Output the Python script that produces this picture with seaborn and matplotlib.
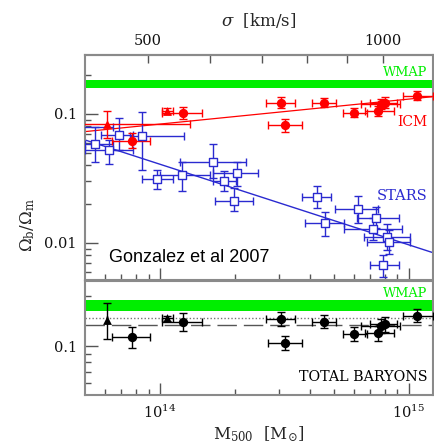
import numpy as np
import pandas as pd
import seaborn as sns
import matplotlib
matplotlib.use('Agg')
import matplotlib.pyplot as plt
from matplotlib.ticker import FixedLocator, NullFormatter, FixedFormatter

# ---------------- data ----------------
# ICM gas fraction (filled circles)
icm_mass = [7.70e13, 1.233e14, 3.06e14, 3.19e14, 4.57e14, 6.03e14, 7.55e14, 7.72e14, 8.03e14, 1.077e15]
icm_mass_lo = [6.41e13, 1.016e14, 2.67e14, 2.71e14, 4.08e14, 5.43e14, 6.67e14, 6.41e14, 7.0e14, 9.44e14]
icm_mass_hi = [9.12e13, 1.479e14, 3.49e14, 3.72e14, 5.11e14, 6.78e14, 8.68e14, 9.18e14, 9.0e14, 1.25e15]
icm_frac = [0.0621, 0.1012, 0.1224, 0.0822, 0.1224, 0.1023, 0.1055, 0.1189, 0.1224, 0.1386]
icm_frac_lo = [0.0548, 0.091, 0.112, 0.0729, 0.113, 0.094, 0.097, 0.109, 0.112, 0.128]
icm_frac_hi = [0.0712, 0.114, 0.134, 0.0915, 0.133, 0.111, 0.115, 0.130, 0.134, 0.150]

# ICM (triangles, group stacks)
tri_mass = [6.11e13, 1.07e14]
tri_mass_lo = [2.83e13, 1.016e14]
tri_mass_hi = [1.32e14, 1.125e14]
tri_icm = [0.0837, 0.1055]
tri_icm_lo = [0.0652, 0.100]
tri_icm_hi = [0.106, 0.111]

# stellar fraction (open squares)
star_mass = [4.2e13, 5.50e13, 6.26e13, 6.86e13, 8.49e13, 9.75e13, 1.229e14, 1.637e14, 1.807e14, 2.044e14,
             1.983e14, 4.27e14, 6.22e14, 7.37e14, 4.61e14, 7.15e14, 8.16e14, 8.31e14, 7.84e14]
star_mass_lo = [3.0e13, 5.0e13, 5.0e13, 5.78e13, 7.58e13, 8.44e13, 1.0e14, 1.203e14, 1.633e14, 1.633e14,
                1.664e14, 3.72e14, 5.06e14, 6.18e14, 3.83e14, 5.50e14, 6.61e14, 6.78e14, 6.99e14]
star_mass_hi = [6.47e13, 6.47e13, 7.79e13, 7.79e13, 1.252e14, 1.125e14, 1.588e14, 2.21e14, 2.02e14, 2.475e14,
                2.357e14, 4.86e14, 7.49e14, 9.09e14, 5.50e14, 9.37e14, 1.007e15, 1.009e15, 9.09e14]
star_frac = [0.0788, 0.0582, 0.0526, 0.0684, 0.0679, 0.0312, 0.0337, 0.0427, 0.0303, 0.0351,
             0.0213, 0.0226, 0.0182, 0.0157, 0.01422, 0.01277, 0.01107, 0.01023, 0.00675]
star_frac_lo = [0.070, 0.0427, 0.041, 0.0526, 0.0368, 0.0261, 0.0253, 0.0319, 0.0253, 0.0277,
                0.0177, 0.0186, 0.01437, 0.01306, 0.01133, 0.01055, 0.00883, 0.00822, 0.00548]
star_frac_hi = [0.088, 0.0797, 0.0629, 0.0931, 0.1031, 0.0368, 0.0425, 0.0585, 0.0363, 0.0425,
                0.0267, 0.0277, 0.0231, 0.0190, 0.0175, 0.01563, 0.01403, 0.01262, 0.00807]

# fitted power laws (end points)
icm_fit_mass = [5.0e13, 1.25e15]
icm_fit_frac = [0.0729, 0.136]
star_fit_mass = [5.0e13, 1.25e15]
star_fit_frac = [0.0628, 0.0084]

# total baryons (bottom panel)
tot_frac = [0.1129, 0.1403, 0.1459, 0.1038, 0.1403, 0.1182, 0.1194, 0.1328, 0.1354, 0.1528]
tot_frac_lo = [0.0968, 0.124, 0.133, 0.094, 0.128, 0.108, 0.108, 0.120, 0.122, 0.139]
tot_frac_hi = [0.131, 0.158, 0.160, 0.115, 0.154, 0.130, 0.132, 0.146, 0.150, 0.168]
tot_tri = [0.144, 0.147]
tot_tri_lo = [0.110, 0.141]
tot_tri_hi = [0.183, 0.153]
tot_tri_mass_lo = [6.11e13, 1.016e14]
tot_tri_mass_hi = [6.11e13, 1.125e14]

wmap_top = [0.159, 0.184]
wmap_bot = [0.163, 0.190]
dashed_level = 0.135
dotted_level = 0.147

sigma_major = [500, 1000]
sigma_minor = [600, 700, 800, 900]

# ---------------- style ----------------
sns.set_theme(style='ticks')
plt.rcParams['font.family'] = ['DejaVu Serif']
plt.rcParams['mathtext.fontset'] = 'dejavuserif'

RED = '#ff0000'
BLUE = '#2a2ad0'
GREEN = '#00ee00'
GREY = '#8a8a8a'

fig = plt.figure(figsize=(4.34, 4.46), dpi=100)
L, W = 85 / 434, (433 - 85) / 434
ax1 = fig.add_axes([L, 1 - 280 / 446, W, 225 / 446])
ax2 = fig.add_axes([L, 1 - 395 / 446, W, 114 / 446], sharex=ax1)


def err(v, lo, hi):
    v, lo, hi = map(np.asarray, (v, lo, hi))
    return np.vstack([v - lo, hi - v])


def draw_err(ax, x, xlo, xhi, y, ylo, yhi, color):
    ax.errorbar(x, y, xerr=err(x, xlo, xhi), yerr=err(y, ylo, yhi), fmt='none',
                ecolor=color, elinewidth=1.0, capsize=2.8, capthick=1.0, zorder=3)


# ---- top panel ----
ax1.axhspan(wmap_top[0], wmap_top[1], color=GREEN, lw=0, zorder=1)
sns.lineplot(x=icm_fit_mass, y=icm_fit_frac, color=RED, lw=0.9, ax=ax1, zorder=2)
sns.lineplot(x=star_fit_mass, y=star_fit_frac, color=BLUE, lw=1.0, ax=ax1, zorder=2)
draw_err(ax1, star_mass, star_mass_lo, star_mass_hi, star_frac, star_frac_lo, star_frac_hi, BLUE)
draw_err(ax1, icm_mass, icm_mass_lo, icm_mass_hi, icm_frac, icm_frac_lo, icm_frac_hi, RED)
draw_err(ax1, tri_mass, tri_mass_lo, tri_mass_hi, tri_icm, tri_icm_lo, tri_icm_hi, RED)
sns.scatterplot(x=star_mass, y=star_frac, marker='s', s=30, color='white', edgecolor=BLUE,
                linewidth=1.0, ax=ax1, zorder=4)
sns.scatterplot(x=icm_mass, y=icm_frac, marker='o', s=45, color=RED, edgecolor=RED,
                linewidth=0, ax=ax1, zorder=4)
sns.scatterplot(x=tri_mass, y=tri_icm, marker='^', s=40, color=RED, edgecolor=RED,
                linewidth=0, ax=ax1, zorder=4)

# ---- bottom panel ----
ax2.axhspan(wmap_bot[0], wmap_bot[1], color=GREEN, lw=0, zorder=1)
ax2.axhline(dotted_level, color='#777777', lw=1.0, ls=(0, (1, 1.5)), zorder=2)
ax2.axhline(dashed_level, color='#555555', lw=1.0, ls=(0, (14, 5)), zorder=2)
draw_err(ax2, icm_mass, icm_mass_lo, icm_mass_hi, tot_frac, tot_frac_lo, tot_frac_hi, 'black')
draw_err(ax2, tri_mass, tot_tri_mass_lo, tot_tri_mass_hi, tot_tri, tot_tri_lo, tot_tri_hi, 'black')
sns.scatterplot(x=icm_mass, y=tot_frac, marker='o', s=45, color='black', linewidth=0, ax=ax2, zorder=4)
sns.scatterplot(x=tri_mass, y=tot_tri, marker='^', s=40, color='black', linewidth=0, ax=ax2, zorder=4)

for ax in (ax1, ax2):
    ax.set_xscale('log')
    ax.set_yscale('log')
    ax.set_xlim(5.0e13, 1.25e15)
    ax.set_xlabel('')
    ax.set_ylabel('')
    for sp in ax.spines.values():
        sp.set_color(GREY)
        sp.set_linewidth(1.5)
    ax.tick_params(which='both', direction='in', color='#555555', labelsize=10.5,
                   labelcolor='#111111', top=False, right=False)
    ax.tick_params(which='major', length=9, width=1.0)
    ax.tick_params(which='minor', length=4.5, width=1.0)
    ax.xaxis.set_major_locator(FixedLocator([1e14, 1e15]))
    ax.xaxis.set_minor_locator(FixedLocator([6e13, 7e13, 8e13, 9e13, 2e14, 3e14, 4e14, 5e14,
                                             6e14, 7e14, 8e14, 9e14]))
    ax.xaxis.set_minor_formatter(NullFormatter())

ax1.set_ylim(0.00516, 0.286)
ax2.set_ylim(0.0505, 0.248)
ax1.yaxis.set_major_locator(FixedLocator([0.01, 0.1]))
ax1.yaxis.set_major_formatter(FixedFormatter(['0.01', '0.1']))
ax1.yaxis.set_minor_locator(FixedLocator([0.006, 0.007, 0.008, 0.009, 0.02, 0.03, 0.04, 0.05,
                                          0.06, 0.07, 0.08, 0.09, 0.2]))
ax1.yaxis.set_minor_formatter(NullFormatter())
ax2.yaxis.set_major_locator(FixedLocator([0.1]))
ax2.yaxis.set_major_formatter(FixedFormatter(['0.1']))
ax2.yaxis.set_minor_locator(FixedLocator([0.06, 0.07, 0.08, 0.09, 0.2]))
ax2.yaxis.set_minor_formatter(NullFormatter())

ax1.tick_params(axis='x', labelbottom=False)
ax2.xaxis.set_major_formatter(FixedFormatter([r'$10^{14}$', r'$10^{15}$']))
ax2.tick_params(axis='x', pad=6)
ax1.tick_params(axis='y', pad=6)
ax2.tick_params(axis='y', pad=6)
ax2.set_xlabel(r'$\mathrm{M_{500}}\ \ [\mathrm{M_{\odot}}]$', fontsize=12, labelpad=3)


# velocity dispersion axis on top
def m2s(m):
    m = np.clip(np.asarray(m, dtype=float), 1e-30, None)
    return 500.0 * 10 ** ((249.0 * (np.log10(m) - 14.0) + 12.0) / 781.0)


def s2m(s):
    s = np.clip(np.asarray(s, dtype=float), 1e-30, None)
    return 10 ** (14.0 + (781.0 * np.log10(s / 500.0) - 12.0) / 249.0)


sec = ax1.secondary_xaxis('top', functions=(m2s, s2m))
sec.xaxis.set_major_locator(FixedLocator(sigma_major))
sec.xaxis.set_major_formatter(FixedFormatter([str(v) for v in sigma_major]))
sec.xaxis.set_minor_locator(FixedLocator(sigma_minor))
sec.xaxis.set_minor_formatter(NullFormatter())
sec.tick_params(which='both', direction='in', color='#555555', labelsize=10.5,
                labelcolor='#111111', pad=5)
sec.tick_params(which='major', length=6, width=1.0)
sec.tick_params(which='minor', length=6, width=1.0)
sec.spines['top'].set_color(GREY)
sec.spines['top'].set_linewidth(1.5)
sec.set_xlabel(r'$\sigma\ \ [\mathrm{km/s}]$', fontsize=12, labelpad=6)

# annotations
ax1.text(0.985, 0.92, 'WMAP', color=GREEN, fontsize=9.3, ha='right', va='center', transform=ax1.transAxes)
ax1.text(0.985, 0.70, 'ICM', color=RED, fontsize=10, ha='right', va='center', transform=ax1.transAxes)
ax1.text(0.985, 0.373, 'STARS', color=BLUE, fontsize=10.5, ha='right', va='center', transform=ax1.transAxes)
ax1.text(0.069, 0.098, 'Gonzalez et al 2007', color='black', fontsize=13, ha='left', va='center',
         family=['Liberation Sans', 'DejaVu Sans'], transform=ax1.transAxes)
ax2.text(0.985, 0.886, 'WMAP', color=GREEN, fontsize=9.3, ha='right', va='center', transform=ax2.transAxes)
ax2.text(0.985, 0.158, 'TOTAL BARYONS', color='black', fontsize=10.3, ha='right', va='center',
         transform=ax2.transAxes)

fig.text(28 / 434, 1 - 225 / 446, r'$\Omega_{\mathrm{b}}/\Omega_{\mathrm{m}}$', rotation=90,
         fontsize=12, ha='center', va='center')

fig.savefig('out.png', dpi=100)
